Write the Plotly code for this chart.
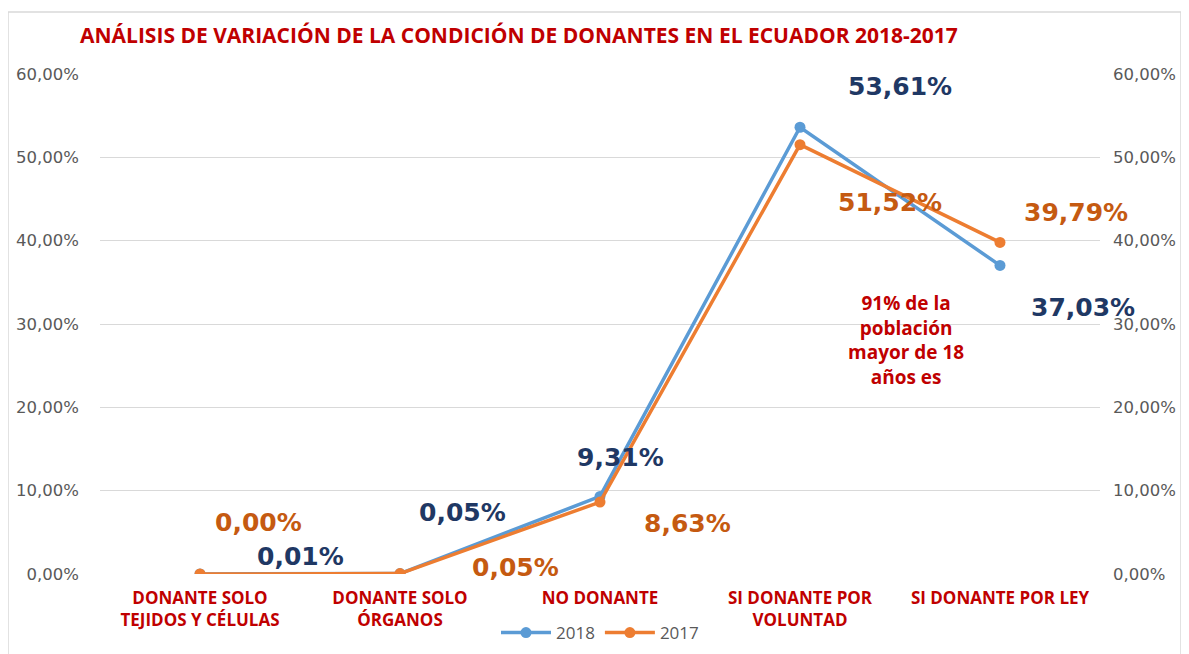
import plotly.graph_objects as go

categories = ["DONANTE SOLO<br>TEJIDOS Y CÉLULAS", "DONANTE SOLO<br>ÓRGANOS", "NO DONANTE",
              "SI DONANTE POR<br>VOLUNTAD", "SI DONANTE POR LEY"]
cat_ids = [0, 1, 2, 3, 4]
values_2018 = [0.01, 0.05, 9.31, 53.61, 37.03]
values_2017 = [0.00, 0.05, 8.63, 51.52, 39.79]
labels_2018 = ["0,01%", "0,05%", "9,31%", "53,61%", "37,03%"]
labels_2017 = ["0,00%", "0,05%", "8,63%", "51,52%", "39,79%"]
y_ticks = [0, 10, 20, 30, 40, 50, 60]
y_tick_text = ["0,00%", "10,00%", "20,00%", "30,00%", "40,00%", "50,00%", "60,00%"]

# pixel offsets of data labels from their points
off_2018 = [(100, 17), (62, 61), (20, 39), (100, 41), (83, -42)]
off_2017 = [(58, 52), (115, 6), (87, -21), (90, -58), (76, 30)]

BLUE = "#5B9BD5"
ORANGE = "#ED7D31"
DARKBLUE = "#1F3864"
DARKORANGE = "#C55A11"
RED = "#C00000"
GRAY = "#595959"
LABEL_FONT = "DejaVu Sans"

W, H = 1181, 646  # page body adds 8px offset

fig = go.Figure()
fig.add_trace(go.Scatter(x=cat_ids, y=values_2018, mode="lines+markers", name="2018",
                         line=dict(color=BLUE, width=3.5), marker=dict(size=11, color=BLUE)))
fig.add_trace(go.Scatter(x=cat_ids, y=values_2017, mode="lines+markers", name="2017",
                         line=dict(color=ORANGE, width=3.5), marker=dict(size=11, color=ORANGE),
                         yaxis="y2"))

ann = []
for i, (v, t, (dx, dy)) in enumerate(zip(values_2018, labels_2018, off_2018)):
    ann.append(dict(x=cat_ids[i], y=v, xref="x", yref="y", text="<b>" + t + "</b>", showarrow=False,
                    xshift=dx, yshift=dy, font=dict(family=LABEL_FONT, size=25, color=DARKBLUE)))
for i, (v, t, (dx, dy)) in enumerate(zip(values_2017, labels_2017, off_2017)):
    ann.append(dict(x=cat_ids[i], y=v, xref="x", yref="y", text="<b>" + t + "</b>", showarrow=False,
                    xshift=dx, yshift=dy, font=dict(family=LABEL_FONT, size=25, color=DARKORANGE)))
ann.append(dict(x=(906 - 100) / 1000, y=(574 - 340) / 500, xref="paper", yref="paper",
                xanchor="center", yanchor="middle",
                text="<b>91% de la<br>población<br>mayor de 18<br>años es</b>", showarrow=False,
                font=dict(family="Open Sans", size=19, color=RED), align="center"))

fig.update_layout(
    width=W, height=H,
    margin=dict(l=92, r=89, t=66, b=80, autoexpand=False),
    paper_bgcolor="white", plot_bgcolor="white",
    title=dict(text="<b>ANÁLISIS DE VARIACIÓN DE LA CONDICIÓN DE DONANTES EN EL ECUADOR 2018-2017</b>",
               x=72 / W, xanchor="left", xref="container",
               y=1 - 28 / H, yanchor="middle", yref="container",
               font=dict(family="Open Sans", size=21, color=RED)),
    xaxis=dict(range=[-0.5, 4.5], tickmode="array", tickvals=cat_ids,
               ticktext=["<b>" + c.replace("<br>", "</b><br><b>") + "</b>" for c in categories],
               showgrid=False, zeroline=False, showline=False, ticks="", automargin=False,
               ticklabelstandoff=12,
               tickfont=dict(family="Open Sans", size=17, color=RED)),
    yaxis=dict(range=[0, 60], tickmode="array", tickvals=y_ticks, ticktext=y_tick_text,
               showgrid=True, gridcolor="#D9D9D9", gridwidth=1, zeroline=False, showline=False,
               automargin=False,
               tickfont=dict(family="DejaVu Sans", size=16.5, color=GRAY), ticklabelstandoff=20),
    yaxis2=dict(range=[0, 60], tickmode="array", tickvals=y_ticks, ticktext=y_tick_text,
                overlaying="y", side="right", showgrid=False, zeroline=False, showline=False,
                automargin=False,
                tickfont=dict(family="DejaVu Sans", size=16.5, color=GRAY), ticklabelstandoff=12),
    legend=dict(orientation="h", x=0.5, xanchor="center", y=(574 - 633) / 500, yanchor="middle",
                font=dict(family="Open Sans", size=17, color=GRAY), itemwidth=50),
    showlegend=True,
    annotations=ann,
    shapes=[dict(type="rect", xref="paper", yref="paper", x0=-0.092, x1=1.081,
                 y0=-0.2, y1=1.124, line=dict(color="#D9D9D9", width=1.5), layer="below")],
)

fig.write_html("out.html")
